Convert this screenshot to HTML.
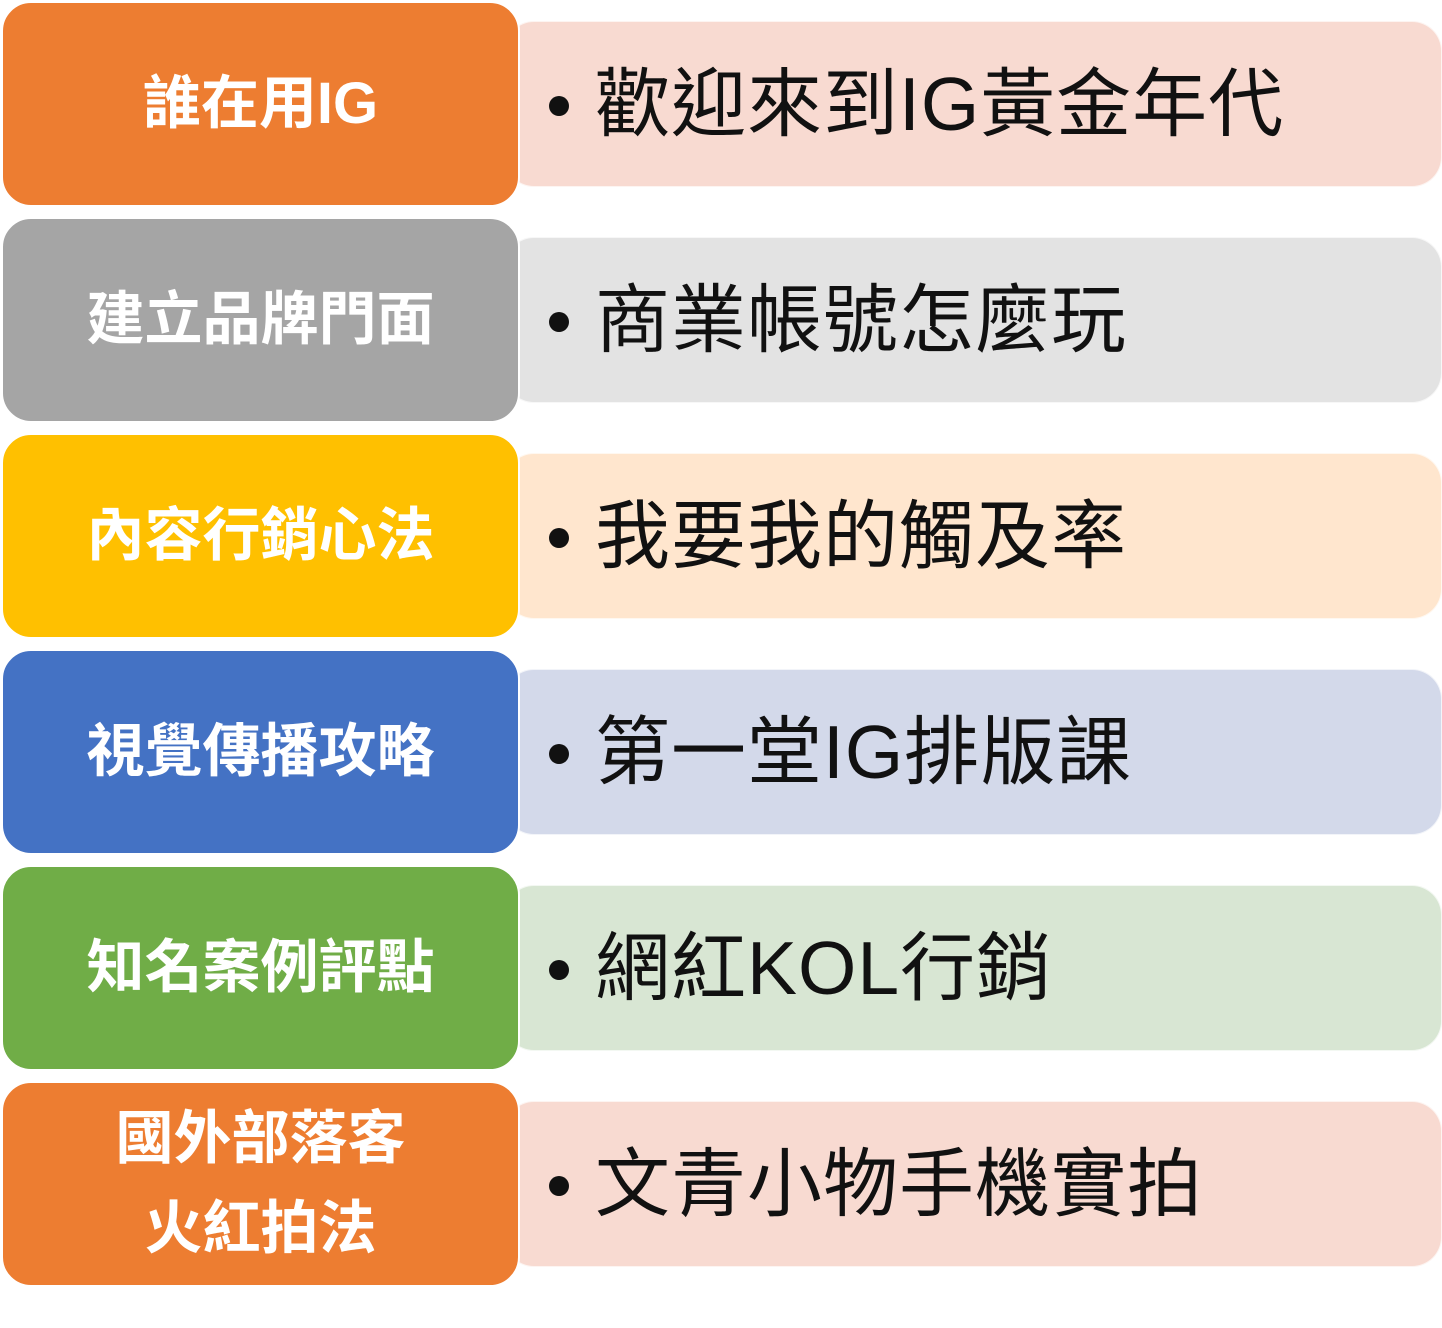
<!DOCTYPE html>
<html><head><meta charset="utf-8"><style>
body{margin:0;width:1442px;height:1328px;background:#fff;position:relative;overflow:hidden;font-family:"Liberation Sans","Noto Sans CJK TC",sans-serif}
.r{position:absolute;left:504px;width:936px;height:164px;border-radius:30px;border:1px solid rgba(255,255,255,.7)}
.r span{position:absolute;left:90px;top:0;line-height:164px;font-size:75px;letter-spacing:1px;color:#111;white-space:nowrap}
.r b{position:absolute;left:44px;top:74px;width:20px;height:20px;border-radius:50%;background:#111}
.l{position:absolute;left:1px;width:519px;height:206px;border-radius:30px;border:2px solid #fff;box-sizing:border-box;color:#fff;font-weight:bold;font-size:58px;display:flex;align-items:center;justify-content:center;text-align:center;line-height:90px}
</style></head><body>
<div class="r" style="top:21px;background:#F8DAD1"><b></b><span>歡迎來到IG黃金年代</span></div>
<div class="l" style="top:1px;background:#ED7D31">誰在用IG</div>
<div class="r" style="top:237px;background:#E3E3E3"><b></b><span>商業帳號怎麼玩</span></div>
<div class="l" style="top:217px;background:#A5A5A5">建立品牌門面</div>
<div class="r" style="top:453px;background:#FFE6CE"><b></b><span>我要我的觸及率</span></div>
<div class="l" style="top:433px;background:#FFC000">內容行銷心法</div>
<div class="r" style="top:669px;background:#D3D9EA"><b></b><span>第一堂IG排版課</span></div>
<div class="l" style="top:649px;background:#4472C4">視覺傳播攻略</div>
<div class="r" style="top:885px;background:#D8E6D3"><b></b><span>網紅KOL行銷</span></div>
<div class="l" style="top:865px;background:#70AD47">知名案例評點</div>
<div class="r" style="top:1101px;background:#F8DAD1"><b></b><span>文青小物手機實拍</span></div>
<div class="l" style="top:1081px;background:#ED7D31">國外部落客<br>火紅拍法</div>
</body></html>
